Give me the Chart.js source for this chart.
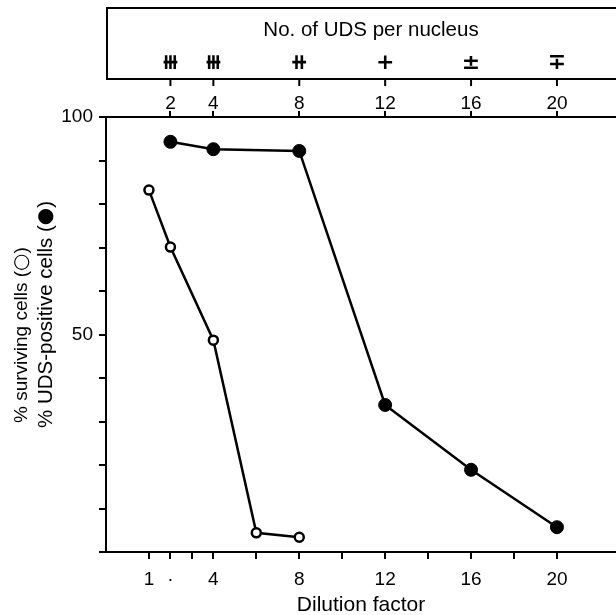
<!DOCTYPE html>
<html><head><meta charset="utf-8">
<script src="https://cdn.jsdelivr.net/npm/chart.js@4"></script>
<style>html,body{margin:0;padding:0;background:#fff;overflow:hidden}#wrap{width:616px;height:615px;position:relative}canvas{display:block}</style>
</head><body><div id="wrap"><canvas id="c"></canvas></div>
<script>
// ---- data ----
const survivingX = [1, 2, 4, 6, 8];
const survivingY = [83.2, 70.1, 48.7, 4.4, 3.4];
const udsPositiveX = [2, 4, 8, 12, 16, 20];
const udsPositiveY = [94.3, 92.6, 92.2, 33.8, 18.9, 5.7];
const udsPerNucleusX = [2, 4, 8, 12, 16, 20];
const udsPerNucleusSymbols = ['\u29FB', '\u29FB', '\u29FA', '+', '\u00B1', '\u2213'];
const topTitle = 'No. of UDS per nucleus';
const bottomTicks = [1, 2, 3, 4, 6, 8, 10, 12, 14, 16, 18, 20];
const bottomTickLabels = {1: '1', 2: '\u00B7', 4: '4', 8: '8', 12: '12', 16: '16', 20: '20'};
const yTicks = [0, 10, 20, 30, 40, 50, 60, 70, 80, 90, 100];
const yTickLabels = {50: '50', 100: '100'};
const xTitle = 'Dilution factor';
const yTitleLine1 = ['% surviving cells (', '\u25CB', ')'];
const yTitleLine2 = ['% UDS-positive cells (', '\u25CF', ')'];

const FONT = 'Liberation Sans, Arial, Helvetica, sans-serif';

function drawRotatedParts(ctx, x, y, parts, fonts) {
  ctx.save();
  ctx.translate(x, y);
  ctx.rotate(-Math.PI / 2);
  let cx = 0;
  parts.forEach((p, i) => {
    ctx.font = fonts[i];
    ctx.fillText(p, cx, 0);
    cx += ctx.measureText(p).width;
  });
  ctx.restore();
}

const panels = {
  id: 'panels',
  afterDraw(chart) {
    const ctx = chart.ctx;
    const xs = chart.scales.x;
    ctx.save();
    ctx.strokeStyle = '#000';
    ctx.lineWidth = 2;
    ctx.strokeRect(107, 8, 620, 71);
    ctx.fillStyle = '#000';
    ctx.textAlign = 'center';
    ctx.textBaseline = 'middle';
    ctx.font = '20.5px ' + FONT;
    ctx.fillText(topTitle, 371, 30);
    ctx.font = 'bold 22px DejaVu Sans, ' + FONT;
    udsPerNucleusX.forEach((v, i) => {
      const px = xs.getPixelForValue(v);
      ctx.fillText(udsPerNucleusSymbols[i], px, 63);
      ctx.beginPath();
      ctx.moveTo(px, 79); ctx.lineTo(px, 86);
      ctx.stroke();
    });
    // y-axis title (two rotated lines)
    ctx.textAlign = 'left';
    ctx.textBaseline = 'middle';
    const f1 = '19px ' + FONT;
    drawRotatedParts(ctx, 22, 423, yTitleLine1, [f1, '20px DejaVu Sans, ' + FONT, f1]);
    const f2 = '20.5px ' + FONT;
    drawRotatedParts(ctx, 46, 428, yTitleLine2, [f2, '20px DejaVu Sans, ' + FONT, f2]);
    ctx.restore();
  }
};

new Chart(document.getElementById('c'), {
  type: 'scatter',
  data: {
    datasets: [
      {
        label: 'surviving',
        data: survivingX.map((x, i) => ({x, y: survivingY[i]})),
        showLine: true,
        borderColor: '#000',
        borderWidth: 2.5,
        backgroundColor: '#fff',
        pointBackgroundColor: '#fff',
        pointBorderColor: '#000',
        pointBorderWidth: 2.5,
        pointRadius: 4.5,
        xAxisID: 'x', yAxisID: 'y'
      },
      {
        label: 'UDS-positive',
        data: udsPositiveX.map((x, i) => ({x, y: udsPositiveY[i]})),
        showLine: true,
        borderColor: '#000',
        borderWidth: 2.5,
        backgroundColor: '#000',
        pointBackgroundColor: '#000',
        pointBorderColor: '#000',
        pointBorderWidth: 1,
        pointRadius: 6.5,
        xAxisID: 'x', yAxisID: 'y'
      }
    ]
  },
  options: {
    responsive: true,
    maintainAspectRatio: false,
    animation: false,
    layout: {autoPadding: false, padding: {left: 0, right: 0, top: 0, bottom: 0}},
    plugins: {legend: {display: false}, tooltip: {enabled: false}},
    scales: {
      x: {
        type: 'linear', position: 'bottom', min: -1, max: 22.75,
        afterBuildTicks: s => { s.ticks = bottomTicks.map(v => ({value: v})); },
        afterFit: s => { s.height = 63; },
        border: {display: true, color: '#000', width: 2},
        grid: {drawOnChartArea: false, color: '#000', lineWidth: 2, tickLength: 7},
        ticks: {
          color: '#000', font: {family: FONT, size: 19}, padding: 9, maxRotation: 0, autoSkip: false,
          callback: v => bottomTickLabels[v] || ''
        },
        title: {display: true, text: xTitle, color: '#000', font: {family: FONT, size: 21}, padding: {top: 0, bottom: -3}}
      },
      x2: {
        type: 'linear', position: 'top', min: -1, max: 22.75,
        afterBuildTicks: s => { s.ticks = udsPerNucleusX.map(v => ({value: v})); },
        afterFit: s => { s.height = 117; },
        border: {display: true, color: '#000', width: 2},
        grid: {drawOnChartArea: false, color: '#000', lineWidth: 2, tickLength: 6},
        ticks: {color: '#000', font: {family: FONT, size: 19}, padding: -4, maxRotation: 0, autoSkip: false}
      },
      y: {
        type: 'linear', position: 'left', min: 0, max: 100,
        afterBuildTicks: s => { s.ticks = yTicks.map(v => ({value: v})); },
        afterFit: s => { s.width = 106; },
        border: {display: true, color: '#000', width: 2},
        grid: {drawOnChartArea: false, color: '#000', lineWidth: 2, tickLength: 7},
        ticks: {
          color: '#000', font: {family: FONT, size: 19}, padding: 6,
          callback: v => yTickLabels[v] || ''
        }
      }
    }
  },
  plugins: [panels]
});
</script></body></html>
